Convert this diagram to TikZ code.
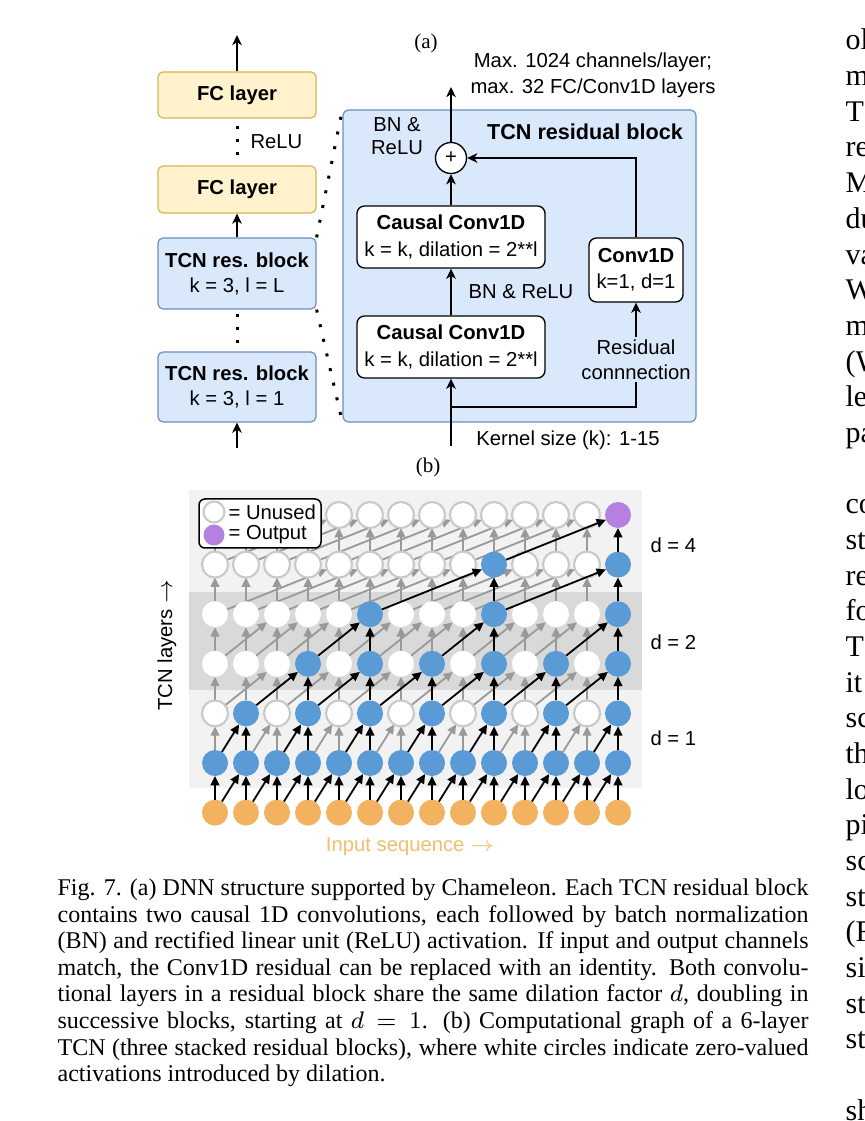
\documentclass[tikz,border=0pt]{standalone}
\usepackage{fontspec}
\setmainfont{Liberation Serif}
\newfontfamily\arial{Liberation Sans}
\usetikzlibrary{arrows.meta}
\newdimen\px
\px=0.333333pt
\definecolor{fcfill}{HTML}{FFF2CC}
\definecolor{fcdraw}{HTML}{D6B656}
\definecolor{tcnfill}{HTML}{DAE8FC}
\definecolor{tcndraw}{HTML}{6C8EBF}
\definecolor{cblue}{HTML}{5B9BD5}
\definecolor{corange}{HTML}{F2B25F}
\definecolor{cpurple}{HTML}{B580E0}
\definecolor{cgrayarr}{HTML}{999999}
\definecolor{cring}{HTML}{C9C9C9}
\definecolor{bglight}{HTML}{F2F2F2}
\definecolor{bgdark}{HTML}{D9D9D9}
\definecolor{inseq}{HTML}{F2BE70}
\pgfdeclarelayer{back}
\pgfdeclarelayer{mid}
\pgfdeclarelayer{front}
\pgfsetlayers{back,mid,main,front}
\newcommand\tcnusedexpr{((\j==1) || ((\j==2) && (mod(\i,2)==1)) || ((\j==3) && (\i>2) && (mod(\i,2)==1)) || ((\j==4) && (\i>4) && (mod(\i-1,4)==0)) || ((\j==5) && (\i>8) && (mod(\i-1,4)==0)) || ((\j==6) && (\i==13))) ? 1 : 0}
\newcommand\rarr{\ensuremath{\rightarrow}}
\tikzset{
  dfont/.style={font={\arial\fontsize{6.75pt}{#1}\selectfont}},
  dfont/.default=8.33pt,
  fcbox/.style={draw=fcdraw, fill=fcfill, line width=0.4pt, rounded corners=1.7pt, minimum width=158\px, minimum height=46\px, inner sep=0pt, align=center, dfont},
  tcnbox/.style={draw=tcndraw, fill=tcnfill, line width=0.4pt, rounded corners=1.7pt, inner sep=0pt, align=center, dfont},
  wbox/.style={draw=black, fill=white, line width=0.45pt, rounded corners=2.5pt, inner sep=0pt, align=center, dfont=9pt},
  arr/.style={line width=0.45pt, -{Stealth[length=3.4pt,width=3.2pt,inset=1pt]}},
  dotline/.style={line width=1pt, dash pattern=on 1pt off 3.3pt},
  gnode/.style={circle, minimum size=26\px, inner sep=0pt, outer sep=0pt},
  bnode/.style={gnode, fill=cblue},
  pnode/.style={gnode, fill=cpurple},
  onode/.style={gnode, fill=corange},
  wnode/.style={gnode, fill=white, draw=cring, line width=0.7pt},
  wdnode/.style={gnode, fill=white},
  blkarr/.style={line width=0.6pt, black, -{Triangle[length=3.1pt,width=2.9pt]}},
  gryarr/.style={line width=0.6pt, cgrayarr, -{Triangle[length=3.1pt,width=2.9pt]}},
  captxt/.style={anchor=base west, inner sep=0pt, font=\fontsize{8pt}{9pt}\selectfont},
  bodytxt/.style={anchor=base west, inner sep=0pt, font=\fontsize{10pt}{12pt}\selectfont},
}
\begin{document}
\begin{tikzpicture}[x=0.333333pt, y=-0.333333pt]
\useasboundingbox (0,0) rectangle (864,1121);
\begin{pgfonlayer}{back}
  \fill[white] (0,0) rectangle (864,1121);
  \fill[bglight] (189,490) rectangle (642,788);
  \fill[bgdark] (189,592) rectangle (642,690);
\end{pgfonlayer}

% ---------------- (a) ----------------
\node[font=\fontsize{7pt}{8pt}\selectfont] (la) at (426,43) {(a)};

% left column
\node[fcbox] (fc1) at (237,95) {\textbf{FC layer}};
\node[fcbox, minimum height=47\px] (fc2) at (237,189.5) {\textbf{FC layer}};
\node[tcnbox, minimum width=158\px, minimum height=71\px] (tcnL) at (237,273.5) {\textbf{TCN res. block}\\k = 3, l = L};
\node[tcnbox, minimum width=158\px, minimum height=70\px] (tcn1) at (237,387) {\textbf{TCN res. block}\\k = 3, l = 1};
\coordinate (topout) at (237,35);
\coordinate (botin) at (237,448);
\draw[arr] (fc1.north) -- (topout);
\draw[arr] (tcnL.north) -- (fc2.south);
\draw[arr] (botin) -- (tcn1.south);
\coordinate (dA1) at (237,126);
\coordinate (dA2) at (237,155);
\coordinate (dB1) at (237,314);
\coordinate (dB2) at (237,343);
\draw[dotline] (dA1) -- (dA2);
\draw[dotline] (dB1) -- (dB2);
\node[dfont, anchor=west, inner sep=0pt] (relu) at (250,142) {ReLU};

% big residual block
\node[tcnbox, minimum width=353\px, minimum height=312\px, rounded corners=2pt] (blk) at (519.5,266) {};
\draw[dotline, dash pattern=on 1pt off 4pt] (tcnL.north east) -- (blk.north west);
\draw[dotline, dash pattern=on 1pt off 4pt] (tcnL.south east) -- (blk.south west);
\node[font={\arial\fontsize{7.2pt}{8pt}\selectfont}] (blktitle) at (585,132) {\textbf{TCN residual block}};
\node[dfont=7.67pt, align=center] (bnrelu1) at (397,136.5) {BN \&\\ReLU};
\node[draw=black, fill=white, circle, line width=0.45pt, minimum size=31\px, inner sep=0pt, dfont] (plus) at (451,158) {+};
\node[wbox, minimum width=188\px, minimum height=62\px] (conv2) at (451,237) {\textbf{Causal Conv1D}\\k = k, dilation = 2**l};
\node[wbox, minimum width=188\px, minimum height=62\px] (conv1) at (451,347) {\textbf{Causal Conv1D}\\k = k, dilation = 2**l};
\node[wbox, minimum width=94\px, minimum height=64\px, dfont=8.67pt] (conv1d) at (636,270) {\textbf{Conv1D}\\k=1, d=1};
\node[dfont] (bnrelu2) at (521,292) {BN \& ReLU};
\node[dfont=8.67pt, align=center] (maxtxt) at (593,75) {Max. 1024 channels/layer;\\max. 32 FC/Conv1D layers};
\coordinate (outtop) at (451,87);
\coordinate (inp) at (451,446);
\coordinate (junc) at (451,407);
\draw[arr] (conv1.north) -- (conv2.south);
\draw[arr] (conv2.north) -- (plus.south);
\draw[arr] (plus.north) -- (outtop);
\draw[arr] (conv1d.north) |- (plus.east);
\draw[arr] (inp) -- (conv1.south);
\draw[arr] (junc) -| (conv1d.south);
\node[dfont, align=center, fill=tcnfill, inner sep=1pt] (resid) at (636,359.5) {Residual\\connnection};
\node[dfont] (kern) at (568,440) {Kernel size (k): 1-15};
\node[font=\fontsize{7pt}{8pt}\selectfont] (lb) at (428,467) {(b)};

% ---------------- (b) graph ----------------
\foreach \i in {0,...,13}{
  \node[onode] (n-\i-0) at ({215+31*\i},812.6) {};
}
\foreach \j in {1,...,6}{
  \foreach \i in {0,...,13}{
    \pgfmathtruncatemacro\used{\tcnusedexpr}
    \pgfmathsetmacro\xx{215+31*\i}
    \pgfmathsetmacro\yy{812.6-49.6*\j}
    \ifnum\used=1
      \ifnum\j=6 \node[pnode] (n-\i-\j) at (\xx,\yy) {};
      \else \node[bnode] (n-\i-\j) at (\xx,\yy) {};
      \fi
    \else
      \ifnum\j=3 \node[wdnode] (n-\i-\j) at (\xx,\yy) {};
      \else\ifnum\j=4 \node[wdnode] (n-\i-\j) at (\xx,\yy) {};
      \else \node[wnode] (n-\i-\j) at (\xx,\yy) {};
      \fi\fi
    \fi
  }
}
\begin{pgfonlayer}{mid}
\foreach \j in {1,...,6}{
  \foreach \i in {0,...,13}{
    \pgfmathtruncatemacro\used{\tcnusedexpr}
    \pgfmathtruncatemacro\dil{(\j<3) ? 1 : ((\j<5) ? 2 : 4)}
    \pgfmathtruncatemacro\kk{\i-\dil}
    \pgfmathtruncatemacro\jm{\j-1}
    \ifnum\used=0
      \draw[gryarr] (n-\i-\jm) -- (n-\i-\j);
      \ifnum\kk>-1 \draw[gryarr] (n-\kk-\jm) -- (n-\i-\j); \fi
    \fi
  }
}
\end{pgfonlayer}
\begin{pgfonlayer}{front}
\foreach \j in {1,...,6}{
  \foreach \i in {0,...,13}{
    \pgfmathtruncatemacro\used{\tcnusedexpr}
    \pgfmathtruncatemacro\dil{(\j<3) ? 1 : ((\j<5) ? 2 : 4)}
    \pgfmathtruncatemacro\kk{\i-\dil}
    \pgfmathtruncatemacro\jm{\j-1}
    \ifnum\used=1
      \draw[blkarr] (n-\i-\jm) -- (n-\i-\j);
      \ifnum\kk>-1 \draw[blkarr] (n-\kk-\jm) -- (n-\i-\j); \fi
    \fi
  }
}
\node[draw=black, fill=white, rounded corners=2pt, line width=0.5pt, minimum width=122\px, minimum height=49\px, inner sep=0pt] (legend) at (260,523.5) {};
\node[wnode, minimum size=21\px] (legU) at (214,512) {};
\node[pnode, minimum size=21\px] (legO) at (214,535) {};
\node[dfont, anchor=west, inner sep=0pt] (legUt) at (228,512) {= Unused};
\node[dfont, anchor=west, inner sep=0pt] (legOt) at (228,535) {= Output};
\end{pgfonlayer}
\node[dfont, anchor=west, inner sep=0pt] (d4) at (650,545) {d = 4};
\node[dfont, anchor=west, inner sep=0pt] (d2) at (650,642) {d = 2};
\node[dfont, anchor=west, inner sep=0pt] (d1) at (650,738) {d = 1};
\node[dfont, text=inseq] (inseqt) at (410,847) {Input sequence \rarr};
\node[dfont, rotate=90] (tcnlay) at (167,645) {TCN layers \rarr};

% ---------------- caption ----------------
\node[captxt] (cap1) at (57,895.5) {\makebox[250.3pt][s]{Fig. 7. (a) DNN structure supported by Chameleon. Each TCN residual block}};
\node[captxt] (cap2) at (57,922.1) {\makebox[250.3pt][s]{contains two causal 1D convolutions, each followed by batch normalization}};
\node[captxt] (cap3) at (57,948.7) {\makebox[250.3pt][s]{(BN) and rectified linear unit (ReLU) activation. If input and output channels}};
\node[captxt] (cap4) at (57,975.3) {\makebox[250.3pt][s]{match, the Conv1D residual can be replaced with an identity. Both convolu-}};
\node[captxt] (cap5) at (57,1001.9) {\makebox[250.3pt][s]{tional layers in a residual block share the same dilation factor $d$, doubling in}};
\node[captxt] (cap6) at (57,1028.5) {\makebox[250.3pt][s]{successive blocks, starting at $d = 1$. (b) Computational graph of a 6-layer}};
\node[captxt] (cap7) at (57,1055.1) {\makebox[250.3pt][s]{TCN (three stacked residual blocks), where white circles indicate zero-valued}};
\node[captxt] (cap8) at (57,1081.7) {activations introduced by dilation.};

% ---------------- clipped neighbouring column ----------------
\begin{scope}
\clip (0,0) rectangle (864,1121);
\foreach \r/\w in {0/ol,1/m,2/T,3/re,4/M,5/du,6/va,7/W,8/m,9/{(W},10/le,11/pa,13/co,14/st,15/re,16/fo,17/T,18/it,19/sc,20/th,21/lo,22/pi,23/sc,24/st,25/{(F},26/si,27/st,28/st,30/sh}{
  \node[bodytxt] (rc\r) at (845,{50+35.67*\r}) {\w};
}
\end{scope}
\end{tikzpicture}
\end{document}
